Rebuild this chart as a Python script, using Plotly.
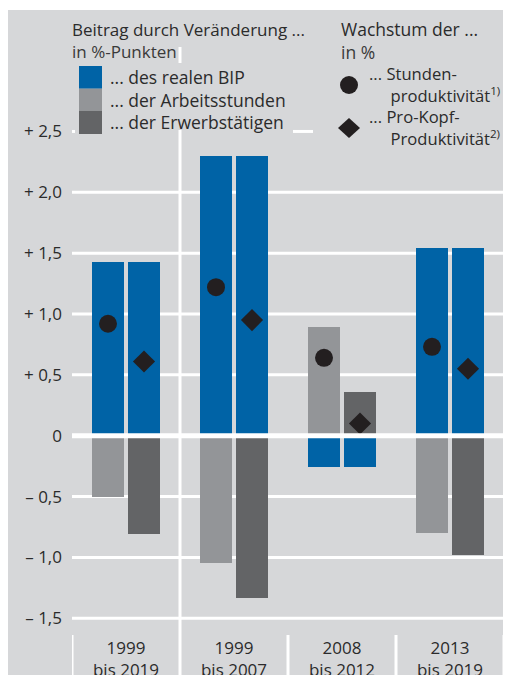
import plotly.graph_objects as go

# Zeiträume
perioden = ["1999<br>bis 2019", "1999<br>bis 2007", "2008<br>bis 2012", "2013<br>bis 2019"]

# Beitrag durch Veränderung ... in %-Punkten
bip = [1.43, 2.30, -0.26, 1.54]
arbeitsstunden = [-0.50, -1.05, 0.89, -0.80]
erwerbstaetige = [-0.81, -1.33, 0.36, -0.98]

# Wachstum der ... in %
stundenproduktivitaet = [0.92, 1.22, 0.64, 0.73]
prokopfproduktivitaet = [0.61, 0.95, 0.10, 0.55]

y_ticks = [-1.5, -1.0, -0.5, 0, 0.5, 1.0, 1.5, 2.0, 2.5]
y_ticktext = ["\u2013 1,5", "\u2013 1,0", "\u2013 0,5", "0", "+ 0,5", "+ 1,0", "+ 1,5", "+ 2,0", "+ 2,5"]

BLAU = "#0063a6"
HELLGRAU = "#939598"
DUNKELGRAU = "#636466"
HINTERGRUND = "#d6d7d9"
SCHWARZ = "#231f20"
TEXT = "#2b2b2b"
FONT = "Open Sans"
FS = 17

# Seite hat 8px Rand; Positionen unten in Seitenpixeln
W, H = 511, 675
OFF = 8
PL, PR, PT, PB = 72, 504, 40, 630
L, R, T, B = PL - OFF, W - (PR - OFF), PT - OFF, H - (PB - OFF)


def px(x):
    return (x - PL) / (PR - PL)


def py(y):
    return (PB - y) / (PB - PT)


idx = list(range(len(perioden)))
links = [i - 1 / 6 for i in idx]
rechts = [i + 1 / 6 for i in idx]
breite = 0.296

fig = go.Figure()
fig.add_trace(go.Bar(x=links, y=bip, width=breite, marker_color=BLAU, marker_line_width=0))
fig.add_trace(go.Bar(x=links, y=arbeitsstunden, width=breite, marker_color=HELLGRAU, marker_line_width=0))
fig.add_trace(go.Bar(x=rechts, y=bip, width=breite, marker_color=BLAU, marker_line_width=0))
fig.add_trace(go.Bar(x=rechts, y=erwerbstaetige, width=breite, marker_color=DUNKELGRAU, marker_line_width=0))
fig.add_trace(go.Scatter(x=links, y=stundenproduktivitaet, mode="markers",
                         marker=dict(symbol="circle", size=18, color=SCHWARZ)))
fig.add_trace(go.Scatter(x=rechts, y=prokopfproduktivitaet, mode="markers",
                         marker=dict(symbol="diamond", size=17, color=SCHWARZ)))

# Nulllinie bei y=435.7 px, 121.7 px je Prozentpunkt
y_min = -(PB - 435.7) / 121.7
y_max = (435.7 - PT) / 121.7

shapes = []
# weißer Streifen oben
shapes.append(dict(type="rect", xref="paper", yref="paper", x0=px(0), x1=px(W + 20), y0=py(10), y1=py(0),
                   fillcolor="white", line_width=0, layer="below"))

# Gitterlinien
for v in y_ticks:
    if v == 0 or v == 2.5:
        continue
    shapes.append(dict(type="line", xref="paper", yref="y", x0=0, x1=1, y0=v, y1=v,
                       line=dict(color="white", width=3), layer="below"))
for a, b in [(72, 75), (293, 313)]:
    shapes.append(dict(type="line", xref="paper", yref="y", x0=px(a), x1=px(b), y0=2.5, y1=2.5,
                       line=dict(color="white", width=3), layer="below"))
shapes.append(dict(type="line", xref="paper", yref="y", x0=0, x1=1, y0=0, y1=0,
                   line=dict(color="white", width=5), layer="above"))

# senkrechte Trennlinien
shapes.append(dict(type="line", xref="x", yref="paper", x0=0.5, x1=0.5, y0=py(130), y1=py(H + 2),
                   line=dict(color="white", width=3), layer="below"))
shapes.append(dict(type="line", xref="x", yref="paper", x0=0.5, x1=0.5, y0=py(47), y1=py(63),
                   line=dict(color="white", width=3), layer="below"))
for xv in [-0.5, 1.5, 2.5, 3.5]:
    shapes.append(dict(type="line", xref="x", yref="paper", x0=xv, x1=xv, y0=py(635), y1=py(H + 2),
                       line=dict(color="white", width=3), layer="below"))

# Legende links: Farbfelder
for (a, b), c in zip([(66, 88.7), (88.7, 110.7), (110.7, 134)], [BLAU, HELLGRAU, DUNKELGRAU]):
    shapes.append(dict(type="rect", xref="paper", yref="paper", x0=px(79), x1=px(102), y0=py(b), y1=py(a),
                       fillcolor=c, line_width=0, layer="above"))

# Legende rechts: Symbole
shapes.append(dict(type="circle", xref="paper", yref="paper", x0=px(340), x1=px(358), y0=py(94), y1=py(76),
                   fillcolor=SCHWARZ, line_width=0, layer="above"))
cx, cy = px(349), py(128)
dx, dy = 11 / (PR - PL), 10 / (PB - PT)
shapes.append(dict(type="path", xref="paper", yref="paper",
                   path=f"M {cx - dx} {cy} L {cx} {cy + dy} L {cx + dx} {cy} L {cx} {cy - dy} Z",
                   fillcolor=SCHWARZ, line_width=0, layer="above"))

annotations = []


def text(x, y, s, size=17.5, color=TEXT):
    annotations.append(dict(xref="paper", yref="paper", x=px(x), y=py(y), text=s, showarrow=False,
                            xanchor="left", yanchor="middle", align="left",
                            font=dict(family=FONT, size=size, color=color)))


NB = "\u00a0"
text(70, 40, "Beitrag durch Veränderung ...<br><span style='color:#3a3a3a'>in %-Punkten</span>", size=17)
text(108, 77, "... des realen BIP")
text(108, 100, "... der Arbeitsstunden")
text(108, 122, "... der Erwerbstätigen")
text(339, 40, "Wachstum der ...<br><span style='color:#3a3a3a'>in %</span>", size=17.5)
text(367, 106, "..." + NB + "Stunden-<br>" + NB * 5 + "produktivität<sup>1)</sup><br>"
     "..." + NB + "Pro-Kopf-<br>" + NB * 5 + "Produktivität<sup>2)</sup>", size=16.6)

fig.update_layout(
    width=W, height=H,
    margin=dict(l=L, r=R, t=T, b=B, pad=0),
    paper_bgcolor=HINTERGRUND,
    plot_bgcolor="rgba(0,0,0,0)",
    barmode="relative",
    bargap=0,
    showlegend=False,
    font=dict(family=FONT, size=FS, color=TEXT),
    shapes=shapes,
    annotations=annotations,
    xaxis=dict(range=[-0.5, 3.5], tickvals=idx, ticktext=perioden, showgrid=False, zeroline=False,
               showline=False, ticks="", ticklabelstandoff=6, automargin=False,
               tickfont=dict(family=FONT, size=FS, color=TEXT)),
    yaxis=dict(range=[y_min, y_max], tickvals=y_ticks, ticktext=y_ticktext, showgrid=False, zeroline=False,
               showline=False, ticks="", ticklabelstandoff=9, automargin=False,
               tickfont=dict(family=FONT, size=FS, color=TEXT)),
)

fig.write_html("out.html")
